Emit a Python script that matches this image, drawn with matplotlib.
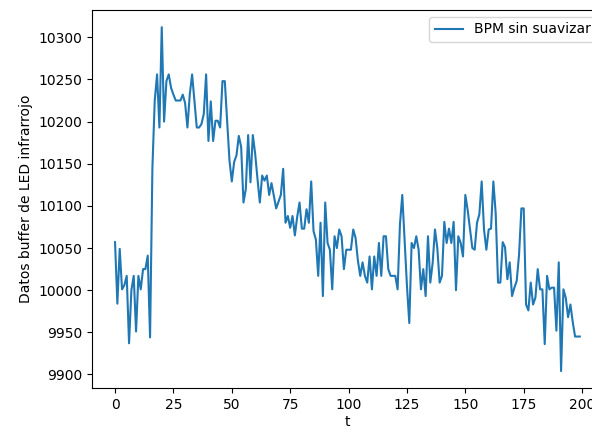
import matplotlib
matplotlib.use("Agg")
import matplotlib.pyplot as plt
import numpy as np

# Raw infrared LED buffer values
bpm_raw = [
    10057, 9984, 10049, 10001, 10006, 10017, 9937, 10000, 10017, 9951,
    10017, 10001, 10025, 10025, 10041, 9944, 10145, 10225, 10256, 10193,
    10312, 10200, 10248, 10256, 10240, 10232, 10225, 10225, 10225, 10232,
    10222, 10193, 10232, 10256, 10225, 10193, 10193, 10197, 10209, 10256,
    10177, 10224, 10177, 10201, 10201, 10193, 10248, 10248, 10200, 10154,
    10129, 10152, 10160, 10183, 10170, 10104, 10120, 10184, 10128, 10184,
    10162, 10132, 10104, 10136, 10130, 10136, 10113, 10127, 10112, 10097,
    10105, 10113, 10144, 10080, 10088, 10074, 10088, 10065, 10087, 10104,
    10073, 10073, 10096, 10080, 10129, 10070, 10060, 10017, 10080, 9993,
    10104, 10056, 10048, 10001, 10064, 10050, 10072, 10064, 10025, 10048,
    10048, 10048, 10072, 10062, 10035, 10017, 10033, 10017, 10009, 10040,
    10001, 10040, 10017, 10056, 10017, 10064, 10064, 10025, 10017, 10017,
    10017, 10001, 10078, 10113, 10060, 10005, 9961, 10056, 10050, 10064,
    10048, 10001, 10025, 9993, 10064, 10009, 10032, 10072, 10050, 10009,
    10017, 10081, 10056, 10073, 10056, 10081, 10000, 10064, 10056, 10040,
    10113, 10095, 10072, 10050, 10048, 10080, 10090, 10129, 10072, 10048,
    10072, 10073, 10129, 10091, 10009, 10009, 10057, 10051, 10013, 10033,
    9993, 10003, 10011, 10042, 10097, 10097, 9983, 9976, 10009, 9983,
    9991, 10025, 10001, 10001, 9936, 10017, 10001, 10003, 10003, 9952,
    10033, 9904, 10001, 9991, 9968, 9983, 9962, 9945, 9945, 9945,
]
t = np.arange(len(bpm_raw))

series_label = "BPM sin suavizar"
x_label = "t"
y_label = "Datos buffer de LED infrarrojo"

fig = plt.figure(figsize=(5.92, 4.30), dpi=100)
ax = fig.add_axes([91.8 / 592, 41.7 / 430, 511.2 / 592, 378.3 / 430])
ax.plot(t, bpm_raw, color="#1f77b4", linewidth=1.5, label=series_label)
ax.set_xlabel(x_label, labelpad=2.5)
ax.set_ylabel(y_label)
ax.legend(loc="upper right")

fig.savefig("out.png", dpi=100)
